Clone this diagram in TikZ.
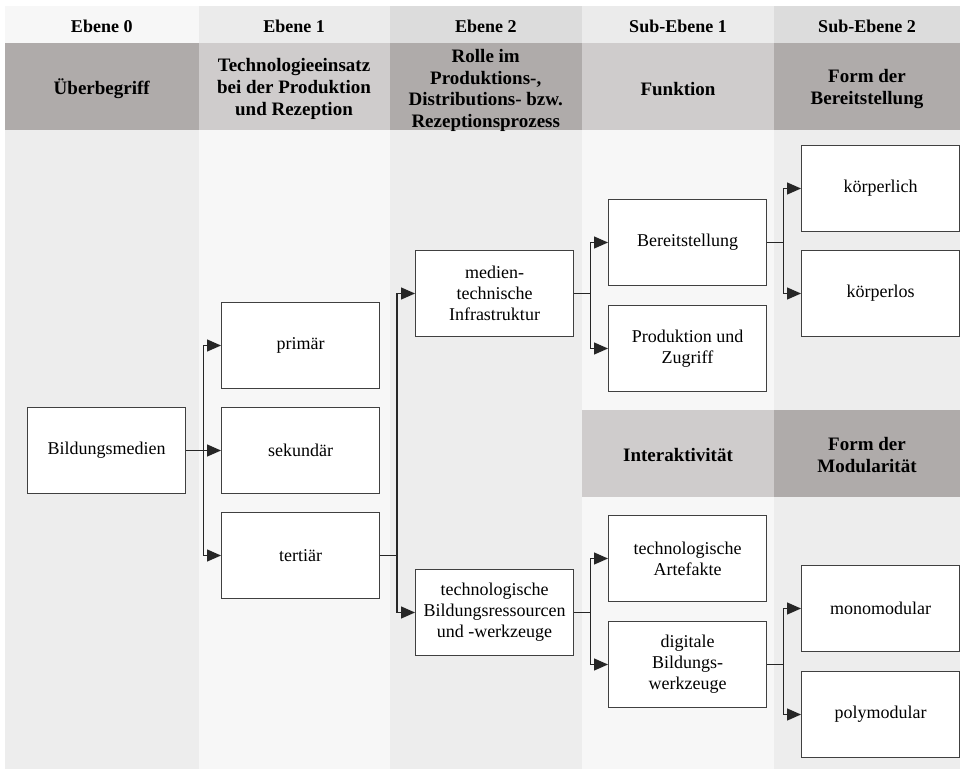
\documentclass[tikz,border=0pt]{standalone}
\usepackage{fontspec}
\setmainfont{LiberationSerif}[Extension=.ttf,UprightFont=*-Regular,BoldFont=*-Bold,ItalicFont=*-Italic,BoldItalicFont=*-BoldItalic]
\usetikzlibrary{arrows.meta}
\definecolor{bodyA}{HTML}{EDEDED}
\definecolor{bodyB}{HTML}{F7F7F7}
\definecolor{topA}{HTML}{F7F7F7}
\definecolor{topB}{HTML}{EBEBEB}
\definecolor{topC}{HTML}{DCDCDC}
\definecolor{catDark}{HTML}{AFABAA}
\definecolor{catLight}{HTML}{CFCCCC}
\begin{document}
\begin{tikzpicture}[x=1pt,y=-1pt,
  box/.style={draw=black!75, line width=1pt, fill=white, minimum width=158pt, minimum height=86pt,
    inner sep=0pt, align=center, anchor=north west, font=\fontsize{18}{21}\selectfont},
  toptxt/.style={align=center, inner sep=0pt, font=\bfseries\fontsize{18}{21}\selectfont},
  cattxt/.style={align=center, inner sep=0pt, font=\bfseries\fontsize{19}{21.8}\selectfont},
  conn/.style={draw=black!85, line width=1.3pt},
  arr/.style={conn, -{Triangle[length=14pt,width=12pt]}}]
\useasboundingbox (0,0) rectangle (963,773);
\fill[white] (0,0) rectangle (963,773);
% body columns
\fill[bodyA] (5,130) rectangle (198.5,769);
\fill[bodyB] (198.5,130) rectangle (389.5,769);
\fill[bodyA] (389.5,130) rectangle (582,769);
\fill[bodyB] (582,130) rectangle (774,769);
\fill[bodyA] (774,130) rectangle (960,769);
% top header row
\fill[topA] (5,6) rectangle (198.5,43.5);
\fill[topB] (198.5,6) rectangle (389.5,43.5);
\fill[topC] (389.5,6) rectangle (582,43.5);
\fill[topB] (582,6) rectangle (774,43.5);
\fill[topC] (774,6) rectangle (960,43.5);
% category header row
\fill[catDark] (5,43.5) rectangle (198.5,130);
\fill[catLight] (198.5,43.5) rectangle (389.5,130);
\fill[catDark] (389.5,43.5) rectangle (582,130);
\fill[catLight] (582,43.5) rectangle (774,130);
\fill[catDark] (774,43.5) rectangle (960,130);
% middle header row
\fill[catLight] (582,410) rectangle (774,497);
\fill[catDark] (774,410) rectangle (960,497);
% header texts
\node[toptxt] (e0) at (101.75,26) {Ebene 0};
\node[toptxt] (e1) at (294,26) {Ebene 1};
\node[toptxt] (e2) at (485.75,26) {Ebene 2};
\node[toptxt] (s1) at (678,26) {Sub-Ebene 1};
\node[toptxt] (s2) at (867,26) {Sub-Ebene 2};
\node[cattxt] (c0) at (101.75,89) {Überbegriff};
\node[cattxt] (c1) at (294,89) {Technologieeinsatz\\bei der Produktion\\und Rezeption};
\node[cattxt] (c2) at (485.75,90.5) {Rolle im\\Produktions-,\\Distributions- bzw.\\Rezeptionsprozess};
\node[cattxt] (c3) at (678,89) {Funktion};
\node[cattxt] (c4) at (867,89) {Form der\\Bereitstellung};
\node[cattxt] (m3) at (678,455) {Interaktivität};
\node[cattxt] (m4) at (867,455) {Form der\\Modularität};
% boxes
\node[box] (bild) at (27,407) {Bildungsmedien};
\node[box] (prim) at (221,302) {primär};
\node[box] (sek) at (221,407) {sekundär};
\node[box] (tert) at (221,512) {tertiär};
\node[box] (med) at (415,250) {medien-\\technische\\Infrastruktur};
\node[box] (tbr) at (415,569) {technologische\\Bildungsressourcen\\und -werkzeuge};
\node[box] (ber) at (608,199) {Bereitstellung};
\node[box] (prod) at (608,305) {Produktion und\\Zugriff};
\node[box] (kl) at (801,145) {körperlich};
\node[box] (klos) at (801,250) {körperlos};
\node[box] (art) at (608,515) {technologische\\Artefakte};
\node[box] (dig) at (608,621) {digitale\\Bildungs-\\werkzeuge};
\node[box] (mono) at (801,565) {monomodular};
\node[box] (poly) at (801,671) {polymodular};
% junction columns
\coordinate (j1) at (203.5,0);
\coordinate (j2) at (397,0);
\coordinate (j3) at (590.5,0);
\coordinate (j4) at (783.5,0);
% connectors
\draw[conn] (bild.east) -- (bild.east -| j1);
\draw[arr] (bild.east -| j1) |- (prim.west);
\draw[arr] (bild.east -| j1) -- (sek.west);
\draw[arr] (bild.east -| j1) |- (tert.west);
\draw[conn] (tert.east) -- (tert.east -| j2);
\draw[arr] (tert.east -| j2) |- (med.west);
\draw[arr] (tert.east -| j2) |- (tbr.west);
\draw[conn] (med.east) -- (med.east -| j3);
\draw[arr] (med.east -| j3) |- (ber.west);
\draw[arr] (med.east -| j3) |- (prod.west);
\draw[conn] (ber.east) -- (ber.east -| j4);
\draw[arr] (ber.east -| j4) |- (kl.west);
\draw[arr] (ber.east -| j4) |- (klos.west);
\draw[conn] (tbr.east) -- (tbr.east -| j3);
\draw[arr] (tbr.east -| j3) |- (art.west);
\draw[arr] (tbr.east -| j3) |- (dig.west);
\draw[conn] (dig.east) -- (dig.east -| j4);
\draw[arr] (dig.east -| j4) |- (mono.west);
\draw[arr] (dig.east -| j4) |- (poly.west);
\end{tikzpicture}
\end{document}
